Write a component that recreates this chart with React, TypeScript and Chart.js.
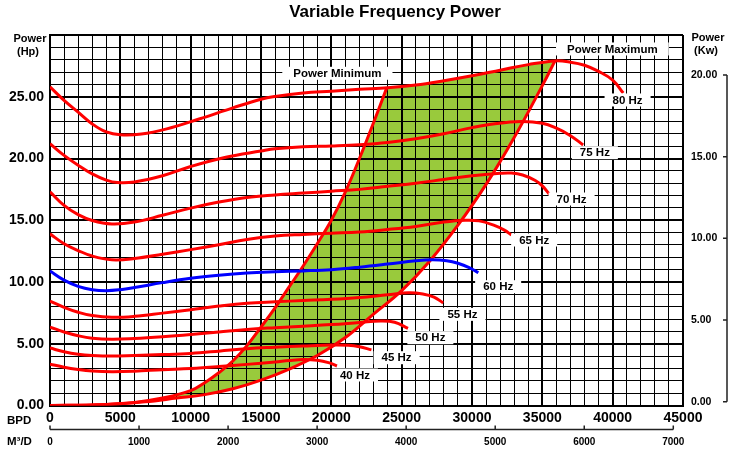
import React, { useEffect, useRef } from 'react';
import { Chart, registerables } from 'chart.js';

Chart.register(...registerables);

type Pt = [number, number];

// ---- axis ticks ----
const BPD_LABEL_TICKS = [0, 5000, 10000, 15000, 20000, 25000, 30000, 35000, 40000, 45000];
const M3D_TICKS = [0, 1000, 2000, 3000, 4000, 5000, 6000, 7000];
const HP_LABEL_TICKS = [0, 5, 10, 15, 20, 25];
const KW_TICKS = [0, 5, 10, 15, 20];

// ---- series (x = BPD, y = Hp) ----
const FREQUENCIES = ['40 Hz', '45 Hz', '50 Hz', '55 Hz', '60 Hz', '65 Hz', '70 Hz', '75 Hz', '80 Hz'];

const hz40: Pt[] = [[0, 3.35], [1000, 3.1], [2000, 2.92], [3000, 2.8], [4400, 2.74], [6000, 2.78], [8000, 2.9], [10000, 3.0], [12000, 3.15], [14000, 3.33], [16000, 3.52], [17000, 3.64], [18000, 3.72], [19000, 3.66], [19800, 3.47], [20400, 3.2]];
const hz45: Pt[] = [[0, 4.65], [1000, 4.35], [2000, 4.15], [3000, 4.05], [4400, 4.0], [6000, 4.05], [8000, 4.12], [10000, 4.22], [12000, 4.4], [14000, 4.6], [16000, 4.72], [18000, 4.82], [20000, 4.9], [21200, 4.88], [22000, 4.76], [22850, 4.5]];
const hz50: Pt[] = [[0, 6.35], [1000, 5.95], [2000, 5.65], [3000, 5.45], [4400, 5.36], [6000, 5.42], [8000, 5.56], [10000, 5.74], [12000, 5.95], [14000, 6.16], [16000, 6.3], [18000, 6.42], [20000, 6.55], [22000, 6.72], [23500, 6.84], [24500, 6.74], [25450, 6.25]];
const hz55: Pt[] = [[0, 8.45], [1000, 7.95], [2000, 7.55], [3000, 7.28], [4400, 7.14], [6000, 7.22], [8000, 7.48], [10000, 7.76], [12000, 8.05], [14000, 8.28], [16000, 8.4], [18000, 8.5], [20000, 8.6], [22000, 8.75], [24000, 8.97], [25500, 9.12], [26500, 9.03], [27300, 8.78], [27950, 8.3]];
const hz60: Pt[] = [[0, 10.9], [1000, 10.15], [2000, 9.65], [3000, 9.38], [4000, 9.3], [5000, 9.38], [6000, 9.55], [8000, 9.95], [10000, 10.3], [12000, 10.55], [14000, 10.73], [16000, 10.83], [18000, 10.9], [20000, 11.0], [22000, 11.2], [24000, 11.45], [26000, 11.72], [27200, 11.8], [28200, 11.72], [29000, 11.52], [29800, 11.17], [30450, 10.75]];
const hz65: Pt[] = [[0, 13.9], [1000, 13.1], [2000, 12.55], [3000, 12.1], [4400, 11.8], [6000, 11.9], [8000, 12.25], [10000, 12.62], [12000, 13.02], [14000, 13.45], [16000, 13.72], [18000, 13.85], [20000, 13.95], [22000, 14.05], [24000, 14.25], [26000, 14.5], [28000, 14.85], [29500, 15.0], [30500, 14.95], [31500, 14.62], [32300, 14.2], [32800, 13.8]];
const hz70: Pt[] = [[0, 17.3], [1000, 16.2], [2000, 15.45], [3000, 14.98], [4400, 14.7], [6000, 14.85], [8000, 15.4], [10000, 15.98], [12000, 16.47], [14000, 16.85], [16000, 17.05], [18000, 17.2], [20000, 17.35], [22000, 17.5], [24000, 17.75], [26000, 18.0], [28000, 18.3], [30000, 18.6], [32000, 18.8], [32800, 18.82], [33600, 18.66], [34500, 18.22], [35000, 17.78], [35500, 17.1]];
const hz75: Pt[] = [[0, 21.2], [1000, 20.25], [2000, 19.45], [3000, 18.75], [4000, 18.25], [4800, 18.05], [6000, 18.1], [8000, 18.6], [10000, 19.35], [12500, 20.1], [15000, 20.6], [16000, 20.78], [18000, 20.95], [20000, 21.02], [22000, 21.12], [24000, 21.3], [26000, 21.6], [28000, 22.0], [30000, 22.5], [31500, 22.8], [33500, 23.0], [35000, 22.85], [36000, 22.45], [37000, 21.85], [37900, 21.1]];
const hz80: Pt[] = [[0, 25.8], [1000, 24.7], [2000, 23.75], [3000, 22.8], [4000, 22.15], [5000, 21.92], [6500, 21.98], [8300, 22.4], [10600, 23.2], [13000, 24.1], [15000, 24.8], [16000, 25.02], [18000, 25.3], [20000, 25.45], [22000, 25.6], [24000, 25.72], [26000, 25.95], [28000, 26.3], [30000, 26.7], [32000, 27.15], [34000, 27.6], [35900, 27.9], [37000, 27.8], [38000, 27.55], [39000, 27.05], [40000, 26.35], [40750, 25.3]];

const FREQ_CURVES: Pt[][] = [hz40, hz45, hz50, hz55, hz60, hz65, hz70, hz75, hz80];

const powerMinimum: Pt[] = [[0, 0], [3000, 0.05], [6000, 0.25], [8000, 0.6], [10000, 1.2], [11000, 1.85], [12000, 2.65], [13000, 3.6], [14000, 4.85], [15000, 6.35], [16000, 7.9], [17000, 9.6], [18000, 11.3], [19000, 13.1], [20000, 15.0], [21000, 17.3], [22000, 20.0], [23000, 22.9], [23930, 25.7]];
const powerMaximum: Pt[] = [[0, 0], [4000, 0.08], [6750, 0.3], [9000, 0.6], [11000, 0.88], [13000, 1.35], [15000, 2.05], [17000, 2.95], [19000, 4.05], [21000, 5.5], [23000, 7.4], [25000, 9.3], [27000, 11.7], [29000, 14.6], [31000, 17.9], [33000, 21.7], [35000, 25.9], [35900, 27.9]];

// ---- presentation ----
const FONT = "'Liberation Sans', Arial, Helvetica, sans-serif";
const RED = '#FF0000';
const BLUE = '#0000FF';
const GREEN = '#99CA3C';

// label anchors in data units (BPD, Hp)
const LABEL_ANCHORS = [
  { text: '40 Hz', x: 21680, y: 2.47, pad: 8 },
  { text: '45 Hz', x: 24640, y: 3.87, pad: 8 },
  { text: '50 Hz', x: 27040, y: 5.49, pad: 8 },
  { text: '55 Hz', x: 29320, y: 7.38, pad: 8 },
  { text: '60 Hz', x: 31860, y: 9.62, pad: 8 },
  { text: '65 Hz', x: 34420, y: 13.4, pad: 8 },
  { text: '70 Hz', x: 37080, y: 16.72, pad: 8 },
  { text: '75 Hz', x: 38735, y: 20.47, pad: 8 },
  { text: '80 Hz', x: 41060, y: 24.74, pad: 8 },
  { text: 'Power Minimum', x: 20430, y: 26.9, pad: 11 },
  { text: 'Power Maximum', x: 39980, y: 28.87, pad: 11 },
];

const toXY = (a: Pt[]) => a.map(([x, y]) => ({ x, y }));
const range = (a: number, b: number, s: number) => {
  const out: number[] = [];
  for (let v = a; v <= b + 1e-9; v += s) out.push(v);
  return out;
};

const overlayPlugin = {
  id: 'overlay',
  afterDatasetDraw(chart: any, args: any) {
    if (args.index !== 0) return;
    const area = chart.chartArea;
    const ctx = chart.ctx;
    ctx.save();
    ctx.beginPath();
    ctx.rect(area.left, area.top, area.right - area.left, area.bottom - area.top);
    ctx.clip();
    chart.scales.x.drawGrid(area);
    chart.scales.y.drawGrid(area);
    ctx.restore();
  },
  afterDatasetsDraw(chart: any) {
    const ctx = chart.ctx;
    const xs = chart.scales.x;
    const ys = chart.scales.y;
    ctx.save();
    ctx.font = `bold 11.5px ${FONT}`;
    ctx.textAlign = 'center';
    ctx.textBaseline = 'middle';
    for (const l of LABEL_ANCHORS) {
      const px = xs.getPixelForValue(l.x);
      const py = ys.getPixelForValue(l.y);
      const w = ctx.measureText(l.text).width + l.pad * 2;
      const h = 13;
      ctx.fillStyle = '#fff';
      ctx.fillRect(px - w / 2, py - h / 2, w, h);
      ctx.fillStyle = '#000';
      ctx.fillText(l.text, px, py + 0.5);
    }
    ctx.restore();
  },
  afterDraw(chart: any) {
    const ctx = chart.ctx;
    ctx.save();
    ctx.fillStyle = '#000';
    ctx.textBaseline = 'middle';
    ctx.textAlign = 'center';
    ctx.font = `bold 17px ${FONT}`;
    ctx.fillText('Variable Frequency Power', 395, 12);

    ctx.font = `bold 11px ${FONT}`;
    ctx.fillText('Power', 30, 38.5);
    ctx.fillText('(Hp)', 28, 51.5);
    ctx.fillText('Power', 708, 37.5);
    ctx.fillText('(Kw)', 706, 50.5);

    ctx.font = `bold 11.5px ${FONT}`;
    ctx.textAlign = 'left';
    ctx.fillText('BPD', 7, 421);
    ctx.fillText('M³/D', 7, 442);

    // right (Kw) axis line with ticks pointing left
    const y2 = chart.scales.y2;
    const ax = y2.right - 19;
    ctx.strokeStyle = '#222';
    ctx.lineWidth = 1.5;
    ctx.beginPath();
    ctx.moveTo(ax, y2.getPixelForValue(KW_TICKS[KW_TICKS.length - 1]));
    ctx.lineTo(ax, y2.getPixelForValue(0));
    for (const t of KW_TICKS) {
      const py = y2.getPixelForValue(t);
      ctx.moveTo(ax, py);
      ctx.lineTo(ax - 4, py);
    }
    ctx.stroke();

    // M3/D axis line with ticks pointing up
    const x2 = chart.scales.x2;
    const ay = x2.top + 2;
    ctx.beginPath();
    ctx.moveTo(x2.getPixelForValue(0), ay);
    ctx.lineTo(x2.getPixelForValue(M3D_TICKS[M3D_TICKS.length - 1]), ay);
    for (const t of M3D_TICKS) {
      const px = x2.getPixelForValue(t);
      ctx.moveTo(px, ay);
      ctx.lineTo(px, ay - 4);
    }
    ctx.stroke();
    ctx.restore();
  },
};

export default function App() {
  const canvasRef = useRef<HTMLCanvasElement | null>(null);

  useEffect(() => {
    if (!canvasRef.current) return;

    const leftPart = powerMinimum;
    const topEdge = hz80.filter(([x]) => x > powerMinimum[powerMinimum.length - 1][0] && x < powerMaximum[powerMaximum.length - 1][0]);
    const rightPart = [...powerMaximum].reverse();
    const polygon = [...leftPart, ...topEdge, ...rightPart];

    const curveStyle = { showLine: true, borderWidth: 3, pointRadius: 0, tension: 0.4 };

    const datasets: any[] = [
      {
        label: 'Operating range',
        data: toXY(polygon),
        showLine: true,
        fill: 'shape',
        backgroundColor: GREEN,
        borderColor: 'rgba(0,0,0,0)',
        borderWidth: 0,
        pointRadius: 0,
        tension: 0,
        order: 10,
      },
      { label: 'Power Minimum', data: toXY(powerMinimum), borderColor: RED, ...curveStyle, order: 1 },
      { label: 'Power Maximum', data: toXY(powerMaximum), borderColor: RED, ...curveStyle, order: 1 },
      ...FREQ_CURVES.map((c, i) => ({
        label: FREQUENCIES[i],
        data: toXY(c),
        borderColor: FREQUENCIES[i] === '60 Hz' ? BLUE : RED,
        ...curveStyle,
        order: 0,
      })),
    ];

    const tickFont = { family: FONT, size: 14, weight: 'bold' as const };

    const chart = new Chart(canvasRef.current, {
      type: 'scatter',
      data: { datasets },
      plugins: [overlayPlugin],
      options: {
        animation: false,
        responsive: true,
        maintainAspectRatio: false,
        events: [],
        layout: { padding: { top: 35, left: 0, right: 0, bottom: 0 } },
        plugins: {
          legend: { display: false },
          tooltip: { enabled: false },
          title: { display: false },
        },
        scales: {
          x: {
            type: 'linear',
            position: 'bottom',
            min: 0,
            max: 45000,
            afterBuildTicks: (s: any) => {
              s.ticks = range(0, 45000, 1000).map((v) => ({ value: v }));
            },
            afterFit: (s: any) => {
              s.height = 22;
            },
            grid: {
              color: '#000',
              lineWidth: (c: any) => (c.tick && c.tick.value % 5000 === 0 ? 2 : 1),
              drawTicks: false,
            },
            border: { display: true, color: '#000', width: 2 },
            ticks: {
              autoSkip: false,
              maxRotation: 0,
              padding: 4,
              color: '#000',
              font: tickFont,
              callback: (v: any) => (BPD_LABEL_TICKS.includes(Number(v)) ? String(v) : ''),
            },
          },
          x2: {
            type: 'linear',
            position: 'bottom',
            min: 0,
            max: 7109,
            afterBuildTicks: (s: any) => {
              s.ticks = M3D_TICKS.map((v) => ({ value: v }));
            },
            afterFit: (s: any) => {
              s.height = 30.5;
            },
            grid: { display: false, drawTicks: false },
            border: { display: false },
            ticks: {
              autoSkip: false,
              maxRotation: 0,
              padding: 9,
              color: '#000',
              font: { family: FONT, size: 10, weight: 'bold' },
              callback: (v: any) => String(v),
            },
          },
          y: {
            type: 'linear',
            position: 'left',
            min: 0,
            max: 30,
            afterBuildTicks: (s: any) => {
              s.ticks = range(0, 30, 1).map((v) => ({ value: v }));
            },
            afterFit: (s: any) => {
              s.width = 50;
            },
            grid: {
              color: '#000',
              lineWidth: (c: any) => (c.tick && c.tick.value % 5 === 0 ? 2 : 1),
              drawTicks: false,
            },
            border: { display: true, color: '#000', width: 2 },
            ticks: {
              autoSkip: false,
              padding: 6,
              color: '#000',
              font: tickFont,
              callback: (v: any) => (HP_LABEL_TICKS.includes(Number(v)) ? Number(v).toFixed(2) : ''),
            },
          },
          y2: {
            type: 'linear',
            position: 'right',
            min: -0.233,
            max: 22.45,
            afterBuildTicks: (s: any) => {
              s.ticks = KW_TICKS.map((v) => ({ value: v }));
            },
            afterFit: (s: any) => {
              s.width = 63;
            },
            grid: { display: false, drawTicks: false },
            border: { display: false },
            ticks: {
              autoSkip: false,
              padding: 8,
              color: '#000',
              font: { family: FONT, size: 10.5, weight: 'bold' },
              callback: (v: any) => Number(v).toFixed(2),
            },
          },
        },
      } as any,
    });

    return () => chart.destroy();
  }, []);

  return (
    <div style={{ position: 'fixed', left: 0, top: 0, width: 746, height: 458, background: '#fff' }}>
      <canvas ref={canvasRef} />
    </div>
  );
}
